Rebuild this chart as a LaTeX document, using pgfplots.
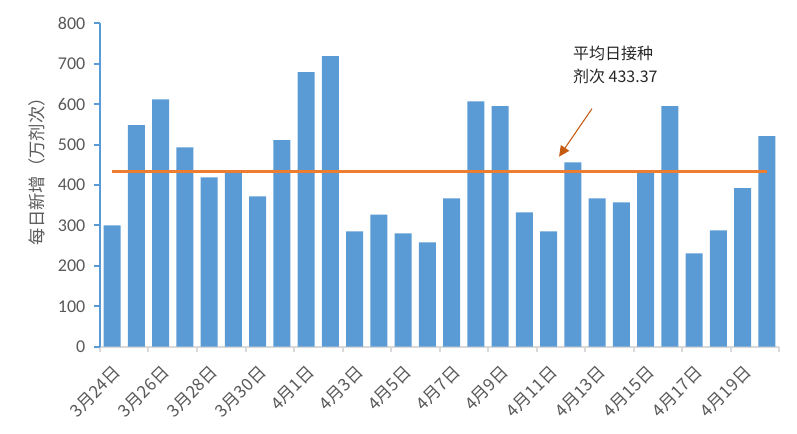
\documentclass[border=0pt]{standalone}
\usepackage{pgfplots}
\pgfplotsset{compat=1.18}
\usepackage{fontspec}
\setmainfont{Carlito}
\newfontfamily\cjk{Noto Sans CJK SC}
\usetikzlibrary{arrows.meta}

\definecolor{barblue}{HTML}{5B9BD5}
\definecolor{avgorange}{HTML}{ED7D31}
\definecolor{arrowbrown}{HTML}{C55A11}
\definecolor{txtgray}{HTML}{595959}
\definecolor{axgray}{HTML}{D9D9D9}

\begin{document}
\begin{tikzpicture}
\useasboundingbox (0,0) rectangle (597.75pt,325.5pt);
\begin{axis}[
    at={(75pt,65.5pt)}, anchor=south west,
    scale only axis,
    width=509.25pt, height=242.5pt,
    xmin=0.5, xmax=28.5,
    ymin=0, ymax=800,
    axis x line*=bottom,
    axis y line*=left,
    x axis line style={draw=axgray, line width=1.5pt, -},
    y axis line style={draw=barblue, line width=1.5pt, -},
    xtick={1,3,...,27},
    xticklabels={3月24日,3月26日,3月28日,3月30日,4月1日,4月3日,4月5日,
                 4月7日,4月9日,4月11日,4月13日,4月15日,4月17日,4月19日},
    minor xtick={0.5,2.5,...,28.5},
    x tick style={draw=none},
    minor x tick style={draw=axgray, line width=1.5pt},
    minor tick length=4pt,
    xticklabel style={rotate=45, anchor=north east, font=\cjk\fontsize{12.8}{14}\selectfont, text=txtgray, yshift=-5pt, xshift=-5pt, inner sep=1pt},
    ytick={0,100,...,800},
    ytick pos=left,
    tick align=outside,
    y tick style={draw=barblue, line width=1.5pt},
    major tick length=4.5pt,
    yticklabel style={font=\fontsize{13.5}{15}\selectfont, text=txtgray, xshift=-3pt},
    /pgf/number format/assume math mode=true,
    ylabel={\cjk 每日新增（万剂次）},
    ylabel style={font=\fontsize{13}{15}\selectfont, text=txtgray, at={(ticklabel cs:0.555)}, yshift=3pt},
    clip=false,
]
\addplot[ybar, bar width=0.7, fill=barblue, draw=none] coordinates {
    (1,300) (2,548) (3,612) (4,493) (5,419) (6,432) (7,372) (8,511) (9,679) (10,719)
    (11,285) (12,327) (13,280) (14,258) (15,367) (16,607) (17,595) (18,332) (19,285) (20,456)
    (21,367) (22,357) (23,432) (24,595) (25,231) (26,288) (27,392) (28,521)
};
\addplot[avgorange, line width=1.6pt] coordinates {(1,433.37) (28,433.37)};
\draw[arrowbrown, line width=0.8pt, -{Triangle[length=8pt,width=7.5pt]}]
    (axis cs:20.79,589) -- (axis cs:19.43,470);
\node[anchor=west, align=left, font=\cjk\fontsize{12}{17.25}\selectfont, text=black!85, inner sep=0pt]
    at (axis cs:20.0,697) {平均日接种\\剂次 433.37};
\end{axis}
\end{tikzpicture}
\end{document}
